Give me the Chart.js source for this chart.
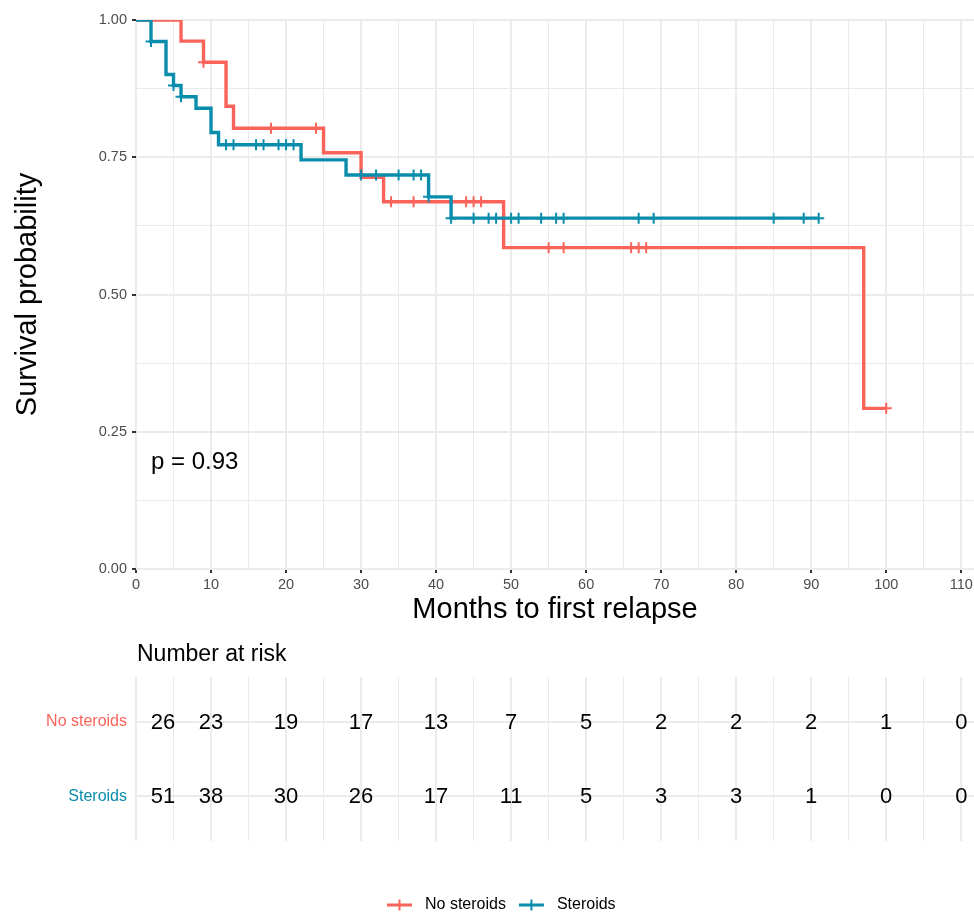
<!DOCTYPE html>
<html>
<head>
<meta charset="utf-8">
<script src="https://cdn.jsdelivr.net/npm/chart.js@4.4.0/dist/chart.umd.min.js"></script>
<style>
  html, body { margin: 0; padding: 0; background: #fff; }
  #wrap { position: relative; width: 974px; height: 913px; }
  #km { position: absolute; left: 0; top: 0; }
  #risk { position: absolute; left: 0; top: 640px; }
</style>
</head>
<body>
<div id="wrap">
  <canvas id="km" width="974" height="640"></canvas>
  <canvas id="risk" width="974" height="273"></canvas>
</div>
<script>
// groups
const groups = ["No steroids", "Steroids"];
const colors = ["#FA6359", "#0A8DAC"];

// Kaplan-Meier steps (months, survival)
const noTimes = [0, 6, 9, 12, 13, 25, 30, 33, 49, 97, 100];
const noSurv = [1, 0.9615, 0.9231, 0.8428, 0.8027, 0.7581, 0.7135, 0.6689, 0.5853, 0.2926, 0.2926];
const noCensTimes = [9, 18, 24, 34, 37, 44, 45, 46, 55, 57, 66, 67, 68, 100];
const noCensSurv = [0.9231, 0.8027, 0.8027, 0.6689, 0.6689, 0.6689, 0.6689, 0.6689, 0.5853, 0.5853, 0.5853, 0.5853, 0.5853, 0.2926];

const stTimes = [0, 2, 4, 5, 6, 8, 10, 11, 22, 28, 39, 42, 91];
const stSurv = [1, 0.9608, 0.9007, 0.8807, 0.8602, 0.8392, 0.7950, 0.7729, 0.7453, 0.7177, 0.6779, 0.6391, 0.6391];
const stCensTimes = [2, 5, 6, 12, 13, 16, 17, 19, 20, 21, 30, 32, 35, 37, 38, 39, 42, 45, 47, 48, 50, 51, 54, 56, 57, 67, 69, 85, 89, 91];
const stCensSurv = [0.9608, 0.8807, 0.8602, 0.7729, 0.7729, 0.7729, 0.7729, 0.7729, 0.7729, 0.7729,
  0.7177, 0.7177, 0.7177, 0.7177, 0.7177, 0.6779, 0.6391, 0.6391, 0.6391, 0.6391, 0.6391, 0.6391,
  0.6391, 0.6391, 0.6391, 0.6391, 0.6391, 0.6391, 0.6391, 0.6391];

// number at risk table
const riskTimes = [0, 10, 20, 30, 40, 50, 60, 70, 80, 90, 100, 110];
const riskNo = [26, 23, 19, 17, 13, 7, 5, 2, 2, 2, 1, 0];
const riskSt = [51, 38, 30, 26, 17, 11, 5, 3, 3, 1, 0, 0];

const pText = "p = 0.93";

const FONT = "'Liberation Sans', Arial, Helvetica, sans-serif";
const GRID = "#EBEBEB";
const X_MAX = 111.7;

function pts(xs, ys) {
  return xs.map((x, i) => ({ x: x, y: ys[i] }));
}
function majorX(v) { return v % 10 === 0; }
function majorY(v) { return Math.abs(v * 4 - Math.round(v * 4)) < 1e-9; }

// x scale shared by both panels
function xScale(showTicks, height) {
  return {
    type: "linear",
    min: 0,
    max: X_MAX,
    border: { display: false },
    ticks: {
      display: showTicks,
      stepSize: 5,
      includeBounds: false,
      autoSkip: false,
      maxRotation: 0,
      padding: 3,
      color: "#4D4D4D",
      font: { family: FONT, size: 14.5 },
      callback: (v) => (majorX(v) ? v : ""),
    },
    grid: {
      color: GRID,
      lineWidth: (c) => (c.tick && majorX(c.tick.value) ? 2 : 1),
      drawTicks: showTicks,
      tickLength: 4,
      tickWidth: 2,
      tickColor: (c) => (c.tick && majorX(c.tick.value) ? "#333333" : "rgba(0,0,0,0)"),
    },
    afterFit: (s) => {
      s.height = height;
      // let the last label hang over the edge like the original
      s.paddingLeft = 0;
      s.paddingRight = 0;
    },
  };
}

const pvalPlugin = {
  id: "pval",
  afterDatasetsDraw(chart) {
    const { ctx, scales } = chart;
    ctx.save();
    ctx.font = "24px " + FONT;
    ctx.fillStyle = "#000";
    ctx.textBaseline = "middle";
    ctx.textAlign = "left";
    ctx.fillText(pText, scales.x.getPixelForValue(2), scales.y.getPixelForValue(0.195));
    ctx.restore();
  },
};

const kmX = xScale(true, 71);
kmX.title = {
  display: true,
  text: "Months to first relapse",
  color: "#000",
  font: { family: FONT, size: 29 },
  padding: { top: 0, bottom: 13 },
};

var km = new Chart(document.getElementById("km"), {
  type: "line",
  data: {
    datasets: [
      {
        label: groups[1],
        data: pts(stTimes, stSurv),
        borderColor: colors[1],
        borderWidth: 3.4,
        stepped: true,
        pointRadius: 0,
        fill: false,
        order: 1,
      },
      {
        label: groups[0],
        data: pts(noTimes, noSurv),
        borderColor: colors[0],
        borderWidth: 3.4,
        stepped: true,
        pointRadius: 0,
        fill: false,
        order: 3,
      },
      {
        label: groups[1] + " censored",
        data: pts(stCensTimes, stCensSurv),
        showLine: false,
        pointStyle: "cross",
        pointRadius: 5.5,
        pointBorderWidth: 2,
        pointBorderColor: colors[1],
        order: 0,
      },
      {
        label: groups[0] + " censored",
        data: pts(noCensTimes, noCensSurv),
        showLine: false,
        pointStyle: "cross",
        pointRadius: 5.5,
        pointBorderWidth: 2,
        pointBorderColor: colors[0],
        order: 2,
      },
    ],
  },
  options: {
    responsive: false,
    animation: false,
    layout: { autoPadding: false, padding: { top: 20, right: 0, bottom: 0, left: 0 } },
    plugins: {
      legend: { display: false },
      tooltip: { enabled: false },
    },
    scales: {
      x: kmX,
      y: {
        type: "linear",
        min: 0,
        max: 1,
        border: { display: false },
        ticks: {
          stepSize: 0.125,
          autoSkip: false,
          padding: 5,
          color: "#4D4D4D",
          font: { family: FONT, size: 14.5 },
          callback: (v) => (majorY(v) ? v.toFixed(2) : ""),
        },
        grid: {
          color: GRID,
          lineWidth: (c) => (c.tick && majorY(c.tick.value) ? 2 : 1),
          tickLength: 4,
          tickWidth: 2,
          tickColor: (c) => (c.tick && majorY(c.tick.value) ? "#333333" : "rgba(0,0,0,0)"),
        },
        title: {
          display: true,
          text: "Survival probability",
          color: "#000",
          font: { family: FONT, size: 29 },
          padding: { top: 11, bottom: 0 },
        },
        afterFit: (s) => { s.width = 136; },
      },
    },
  },
  plugins: [pvalPlugin],
});

// risk table
const riskPlugin = {
  id: "riskTable",
  afterDatasetsDraw(chart) {
    const { ctx, chartArea } = chart;
    ctx.save();
    ctx.fillStyle = "#000";
    ctx.font = "23px " + FONT;
    ctx.textAlign = "left";
    ctx.textBaseline = "middle";
    ctx.fillText("Number at risk", chartArea.left + 1, 15);

    ctx.font = "22px " + FONT;
    ctx.textAlign = "center";
    chart.data.datasets.forEach((ds, di) => {
      const meta = chart.getDatasetMeta(di);
      meta.data.forEach((el, i) => {
        const nudge = i === 0 ? 27 : 0;
        ctx.fillText(String(ds.counts[i]), el.x + nudge, el.y + 1);
      });
    });

    // legend
    let lx = 387;
    const ly = 265;
    ctx.font = "16px " + FONT;
    ctx.textAlign = "left";
    groups.forEach((g, i) => {
      ctx.strokeStyle = colors[i];
      ctx.lineWidth = 3;
      ctx.beginPath();
      ctx.moveTo(lx, ly);
      ctx.lineTo(lx + 25, ly);
      ctx.stroke();
      ctx.lineWidth = 2;
      ctx.beginPath();
      ctx.moveTo(lx + 12.5, ly - 5.5);
      ctx.lineTo(lx + 12.5, ly + 5.5);
      ctx.stroke();
      ctx.fillStyle = "#000";
      ctx.fillText(g, lx + 38, ly);
      lx += 38 + ctx.measureText(g).width + 13;
    });
    ctx.restore();
  },
};

const riskX = xScale(false, 72);

var risk = new Chart(document.getElementById("risk"), {
  type: "line",
  data: {
    datasets: [
      {
        label: groups[0],
        data: riskTimes.map((t) => ({ x: t, y: 2 })),
        counts: riskNo,
        showLine: false,
        pointRadius: 0,
      },
      {
        label: groups[1],
        data: riskTimes.map((t) => ({ x: t, y: 1 })),
        counts: riskSt,
        showLine: false,
        pointRadius: 0,
      },
    ],
  },
  options: {
    responsive: false,
    animation: false,
    layout: { autoPadding: false, padding: { top: 37, right: 0, bottom: 0, left: 0 } },
    plugins: {
      legend: { display: false },
      tooltip: { enabled: false },
    },
    scales: {
      x: riskX,
      y: {
        type: "linear",
        min: 0.4,
        max: 2.6,
        border: { display: false },
        afterBuildTicks: (s) => { s.ticks = [{ value: 1 }, { value: 2 }]; },
        ticks: {
          padding: 9,
          font: { family: FONT, size: 16 },
          color: (c) => (c.tick && c.tick.value === 2 ? colors[0] : colors[1]),
          callback: (v) => (v === 2 ? groups[0] : groups[1]),
        },
        grid: { color: GRID, lineWidth: 2, drawTicks: false },
        afterFit: (s) => { s.width = 136; },
      },
    },
  },
  plugins: [riskPlugin],
});
</script>
</body>
</html>
